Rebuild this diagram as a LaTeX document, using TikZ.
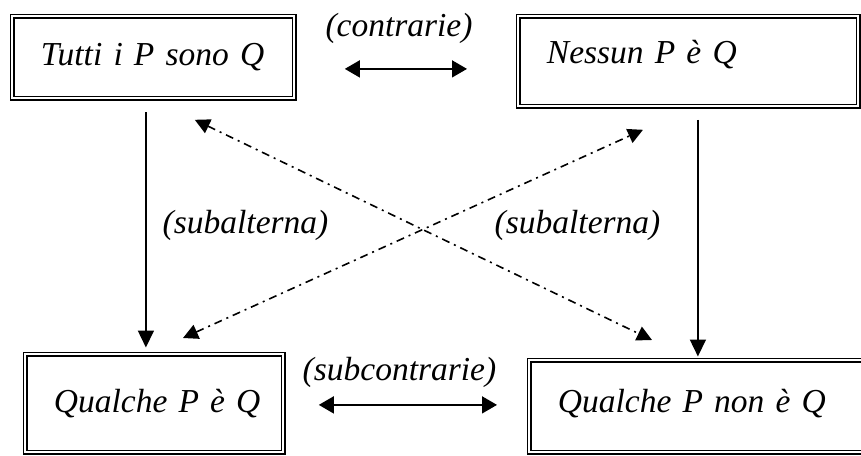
\documentclass[tikz,border=0pt]{standalone}
\usepackage{fontspec}
\setmainfont{Liberation Serif}[ItalicFont={Liberation Serif Italic}]
\usetikzlibrary{arrows.meta}

\begin{document}
\begin{tikzpicture}[
        x=1pt, y=-1pt,
        box/.style={draw=black, line width=1.8pt, double=white, double distance=2pt, inner xsep=28.5pt, inner ysep=0pt, align=left, anchor=north west, font=\fontsize{33.5}{40}\selectfont\itshape},
        lbl/.style={anchor=base, inner sep=0pt, font=\fontsize{33.5}{40}\selectfont\itshape},
        arrow/.style={-{Triangle[length=17pt, width=16pt]}, line width=1.6pt},
        twoway/.style={{Triangle[length=15pt, width=17pt]}-{Triangle[length=15pt, width=17pt]}, line width=1.6pt},
        diag/.style={{Triangle[length=15pt, width=15pt]}-{Triangle[length=15pt, width=15pt]}, line width=1.6pt, dash pattern=on 8pt off 5pt on 2pt off 5pt}
    ]
        \useasboundingbox (0,0) rectangle (861,455);

        % the four corners of the square
        \node[box, text width=225pt, text height=49.5pt, text depth=32.5pt] (all) at (11.5,15.5) {Tutti~i~P~sono~Q};
        \node[box, text width=283pt, text height=47.5pt, text depth=42.5pt] (none) at (517.5,15.5) {Nessun~P~è~Q};
        \node[box, text width=201pt, text height=58.5pt, text depth=39.5pt] (some) at (24.5,353.5) {Qualche~P~è~Q};
        \node[box, text width=315pt, text height=52.5pt, text depth=39.5pt] (somenot) at (528.5,359.5) {Qualche~P~non~è~Q};

        % relations
        \draw[twoway] ([xshift=49.5pt, yshift=-11.5pt]all.east) -- ([xshift=-50.5pt, yshift=-7.5pt]none.west);
        \draw[twoway] ([xshift=34.5pt, yshift=-1.5pt]some.east) -- ([xshift=-31.5pt, yshift=1.5pt]somenot.west);
        \draw[arrow] ([xshift=-7.5pt, yshift=-13pt]all.south) -- ([xshift=-8.5pt, yshift=6pt]some.north);
        \draw[arrow] ([xshift=9.5pt, yshift=-12.5pt]none.south) -- ([xshift=-17.5pt, yshift=3pt]somenot.north);
        \draw[diag] ([xshift=-100.5pt, yshift=-20.5pt]all.south east) -- ([xshift=123.5pt, yshift=19.5pt]somenot.north west);
        \draw[diag] ([xshift=158.5pt, yshift=15.5pt]some.north west) -- ([xshift=125.5pt, yshift=-22.5pt]none.south west);

        \node[lbl] (contr) at (399,36) {(contrarie)};
        \node[lbl] (subcontr) at (399.5,380) {(subcontrarie)};
        \node[lbl] (subalt1) at (245.5,233) {(subalterna)};
        \node[lbl] (subalt2) at (577.5,233) {(subalterna)};
    \end{tikzpicture}
\end{document}
